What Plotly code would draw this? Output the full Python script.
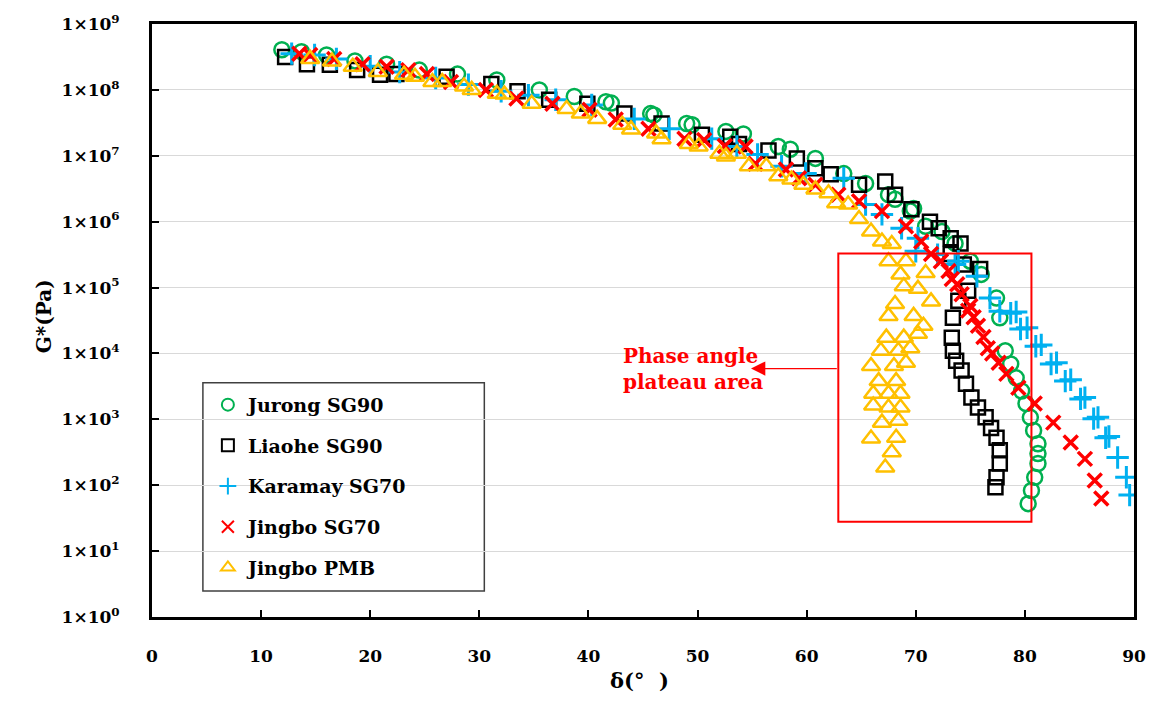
import plotly.graph_objects as go

# ---------------- data (delta in degrees, G* in Pa) ----------------
jurong_delta = [11.9, 13.7, 16.0, 18.6, 21.5, 24.5, 28.0, 31.6, 35.5, 38.7, 41.6, 42.1, 45.7, 46.0,
                49.0, 49.5, 52.6, 54.2, 57.4, 58.5, 60.8, 63.4, 65.4, 67.5, 68.1, 69.5, 69.8, 70.9,
                72.4, 73.6, 75.0, 76.0, 77.4, 77.7, 78.2, 78.7, 79.2, 79.7, 80.1, 80.5, 80.8, 81.2,
                81.2, 81.2, 80.9, 80.6, 80.3]
jurong_log = [8.61, 8.58, 8.53, 8.44, 8.39, 8.30, 8.24, 8.15, 8.00, 7.90, 7.82, 7.80, 7.64, 7.62,
              7.49, 7.47, 7.37, 7.33, 7.14, 7.10, 6.96, 6.73, 6.58, 6.41, 6.34, 6.16, 6.20, 5.93,
              5.85, 5.67, 5.40, 5.20, 4.84, 4.54, 4.04, 3.84, 3.63, 3.43, 3.24, 3.03, 2.83, 2.63,
              2.48, 2.33, 2.12, 1.92, 1.72]

liaohe_delta = [12.2, 14.2, 16.3, 18.8, 20.9, 22.4, 27.0, 31.1, 33.5, 36.4, 39.9, 43.3, 46.7, 50.4,
                53.0, 53.8, 56.5, 59.1, 60.8, 62.2, 64.8, 67.2, 68.1, 69.6, 71.3, 72.1, 73.2, 74.1,
                73.2, 74.4, 75.9, 74.8, 73.9, 73.4, 73.3, 73.4, 73.7, 74.2, 74.6, 75.1, 75.7, 76.4,
                76.9, 77.4, 77.7, 77.7, 77.4, 77.3]
liaohe_log = [8.50, 8.39, 8.38, 8.30, 8.23, 8.24, 8.20, 8.09, 7.98, 7.85, 7.79, 7.64, 7.49, 7.32,
              7.29, 7.18, 7.08, 6.96, 6.81, 6.72, 6.56, 6.61, 6.41, 6.19, 6.00, 5.90, 5.75, 5.67,
              5.51, 5.35, 5.28, 4.95, 4.80, 4.54, 4.24, 4.04, 3.89, 3.74, 3.54, 3.33, 3.18, 3.03,
              2.87, 2.72, 2.53, 2.33, 2.12, 1.97]

karamay_delta = [12.8, 14.9, 16.9, 20.0, 22.7, 26.0, 29.0, 32.0, 34.5, 37.0, 40.3, 44.2, 47.4, 51.3,
                 53.6, 55.5, 57.7, 59.9, 63.4, 65.4, 66.9, 68.7, 70.0, 70.2, 72.0, 73.6, 73.9, 75.6,
                 76.8, 77.7, 78.7, 79.2, 79.6, 80.2, 81.0, 81.5, 82.4, 82.9, 83.7, 84.2, 85.1, 85.5,
                 86.3, 86.7, 87.4, 87.7, 88.5, 89.3, 89.6]
karamay_log = [8.55, 8.53, 8.47, 8.36, 8.27, 8.18, 8.08, 7.98, 7.92, 7.85, 7.77, 7.56, 7.41, 7.26,
               7.14, 7.02, 6.84, 6.73, 6.66, 6.26, 6.11, 5.90, 5.55, 5.75, 5.50, 5.35, 5.40, 5.17,
               4.84, 4.64, 4.61, 4.63, 4.37, 4.39, 4.11, 4.13, 3.84, 3.86, 3.58, 3.60, 3.31, 3.33,
               3.01, 3.03, 2.72, 2.74, 2.42, 2.12, 1.85]

jingbo70_delta = [13.5, 14.5, 16.7, 19.3, 21.5, 23.5, 25.2, 27.4, 30.6, 33.4, 36.7, 40.1, 42.5, 45.5,
                  48.8, 50.6, 52.5, 54.4, 55.3, 58.1, 59.3, 60.8, 62.9, 64.8, 66.9, 69.1, 70.5, 71.4,
                  72.3, 73.0, 73.3, 73.8, 74.2, 74.8, 75.0, 75.3, 75.7, 76.2, 76.6, 77.0, 77.6, 78.3,
                  79.4, 80.9, 82.6, 84.2, 85.5, 86.4, 87.0]
jingbo70_log = [8.55, 8.53, 8.47, 8.39, 8.35, 8.30, 8.24, 8.12, 8.00, 7.87, 7.79, 7.70, 7.55, 7.41,
                7.26, 7.24, 7.15, 7.14, 6.88, 6.79, 6.66, 6.56, 6.41, 6.31, 6.16, 5.93, 5.70, 5.51,
                5.40, 5.25, 5.13, 5.05, 4.90, 4.65, 4.72, 4.55, 4.42, 4.25, 4.08, 4.00, 3.86, 3.69,
                3.48, 3.24, 2.95, 2.65, 2.40, 2.07, 1.80]

pmb_delta = [14.5, 16.5, 18.4, 20.7, 23.1, 24.1, 25.7, 26.6, 28.6, 29.3, 31.6, 32.3, 34.8, 38.0,
             39.3, 40.8, 43.1, 43.9, 46.2, 46.7, 49.2, 50.1, 52.0, 52.6, 53.6, 54.7, 56.3, 57.4,
             58.6, 59.7, 60.8, 62.0, 62.7, 63.8, 64.8, 65.9, 66.9, 67.8,
             67.5, 69.1, 68.6, 70.9, 68.9, 70.2, 71.4, 68.1, 67.5, 69.8, 70.7, 67.3, 68.9, 70.2,
             66.8, 68.4, 69.5, 65.9, 68.0, 69.1, 66.6, 68.2, 66.1, 67.5, 68.6, 66.1, 67.5, 68.6,
             66.9, 68.4, 65.9, 68.2, 67.8, 67.2]
pmb_log = [8.47, 8.43, 8.35, 8.27, 8.23, 8.20, 8.12, 8.12, 8.05, 8.00, 7.94, 7.93, 7.79, 7.71,
           7.64, 7.56, 7.47, 7.40, 7.34, 7.25, 7.18, 7.14, 7.03, 6.99, 7.03, 6.84, 6.84, 6.69,
           6.64, 6.56, 6.49, 6.43, 6.28, 6.26, 6.04, 5.85, 5.70, 5.66,
           5.40, 5.40, 5.20, 5.22, 5.02, 4.98, 4.79, 4.75, 4.57, 4.57, 4.42, 4.24, 4.24, 4.30,
           4.04, 4.04, 4.08, 3.81, 3.81, 3.86, 3.58, 3.58, 3.39, 3.39, 3.39, 3.21, 3.18, 3.18,
           2.95, 2.98, 2.71, 2.72, 2.50, 2.27]

series_names = ["Jurong SG90", "Liaohe SG90", "Karamay SG70", "Jingbo SG70", "Jingbo PMB"]
y_tick_exponents = list(range(0, 10))
x_tick_values = list(range(0, 91, 10))

# plateau-area box (delta range, G* range) and arrow
plateau_delta = [62.9, 80.6]
plateau_g = [28, 3.3e5]
arrow_head_delta = 54.9
arrow_g = 5.9e3

# ---------------- figure ----------------
FONT = "DejaVu Serif"
fig = go.Figure()

styles = [
    dict(symbol="circle-open", size=15, color="#00B050", lw=2.5),
    dict(symbol="square-open", size=14, color="#000000", lw=2.5),
    dict(symbol="cross-thin-open", size=16, color="#00B0F0", lw=3),
    dict(symbol="x-thin-open", size=14, color="#FF0000", lw=3.5),
    dict(symbol="triangle-up-open", size=16, color="#FFC000", lw=2.5),
]
data = [(jurong_delta, jurong_log), (liaohe_delta, liaohe_log), (karamay_delta, karamay_log),
        (jingbo70_delta, jingbo70_log), (pmb_delta, pmb_log)]

for i, (name, (dx, lg), st) in enumerate(zip(series_names, data, styles)):
    fig.add_trace(go.Scatter(
        x=dx, y=[10 ** v for v in lg], mode="markers", name=name,
        legendgroup="g%d" % i,
        marker=dict(symbol=st["symbol"], size=st["size"], color=st["color"],
                    line=dict(color=st["color"], width=st["lw"])),
    ))

fig.update_xaxes(
    range=[0, 90], tickvals=x_tick_values, ticktext=[str(v) for v in x_tick_values],
    showgrid=False, zeroline=False,
    showline=True, linecolor="black", linewidth=3, mirror=True,
    ticks="inside", ticklen=7, tickwidth=2, tickcolor="black",
    tickfont=dict(family=FONT, size=17, color="black", weight="bold"),
    ticklabelstandoff=22,
)
fig.update_yaxes(
    type="log", range=[0, 9],
    tickvals=[10 ** e for e in y_tick_exponents],
    ticktext=["1×10<sup>%d</sup>" % e for e in y_tick_exponents],
    showgrid=True, gridcolor="#d9d9d9", gridwidth=1, zeroline=False,
    showline=True, linecolor="black", linewidth=3, mirror=True,
    ticks="inside", ticklen=7, tickwidth=2, tickcolor="black",
    tickfont=dict(family=FONT, size=17, color="black", weight="bold"),
    ticklabelstandoff=26,
)

# legend frame
legend_box = dict(type="rect", xref="paper", yref="paper",
                  x0=(203 - 152) / 984, x1=(485 - 152) / 984,
                  y0=(617 - 591) / 595, y1=(617 - 382) / 595,
                  line=dict(color="#404040", width=1.5), fillcolor="white")
try:
    fig.add_shape(**legend_box, layer="between")
except Exception:
    fig.add_shape(**legend_box, layer="below")

fig.add_shape(type="rect", xref="x", yref="y",
              x0=plateau_delta[0], x1=plateau_delta[1], y0=plateau_g[0], y1=plateau_g[1],
              line=dict(color="#FF0000", width=2), fillcolor="rgba(0,0,0,0)", layer="above")
fig.add_annotation(x=arrow_head_delta, y=__import__("math").log10(arrow_g),
                   ax=plateau_delta[0], ay=__import__("math").log10(arrow_g),
                   xref="x", yref="y", axref="x", ayref="y",
                   text="", showarrow=True, arrowhead=2, arrowsize=2.2, arrowwidth=1.3,
                   arrowcolor="#FF0000")
fig.add_annotation(x=49.6, y=__import__("math").log10(arrow_g), xref="x", yref="y",
                   showarrow=False, align="left",
                   text="Phase angle<br>plateau area",
                   font=dict(family=FONT, size=20, color="#FF0000", weight="bold"))

# axis titles
fig.add_annotation(x=(30 - 152) / 984, y=(617 - 315) / 595, xref="paper", yref="paper",
                   text="G*(Pa)", textangle=-90, showarrow=False,
                   font=dict(family=FONT, size=20, color="black", weight="bold"))
fig.add_annotation(x=(640 - 152) / 984, y=(617 - 695) / 595, xref="paper", yref="paper",
                   text="δ(°  )", showarrow=False,
                   font=dict(family=FONT, size=21, color="black", weight="bold"))

fig.update_layout(
    width=1158, height=715,
    margin=dict(l=152, r=22, t=22, b=98),
    paper_bgcolor="white", plot_bgcolor="white",
    showlegend=True,
    legend=dict(x=(208 - 152) / 984, y=(617 - 385) / 595, xanchor="left", yanchor="top",
                bgcolor="rgba(0,0,0,0)", borderwidth=0, traceorder="grouped",
                tracegroupgap=13, itemsizing="constant", itemwidth=30,
                font=dict(family=FONT, size=19, color="black", weight="bold")),
)

fig.write_html("out.html")
